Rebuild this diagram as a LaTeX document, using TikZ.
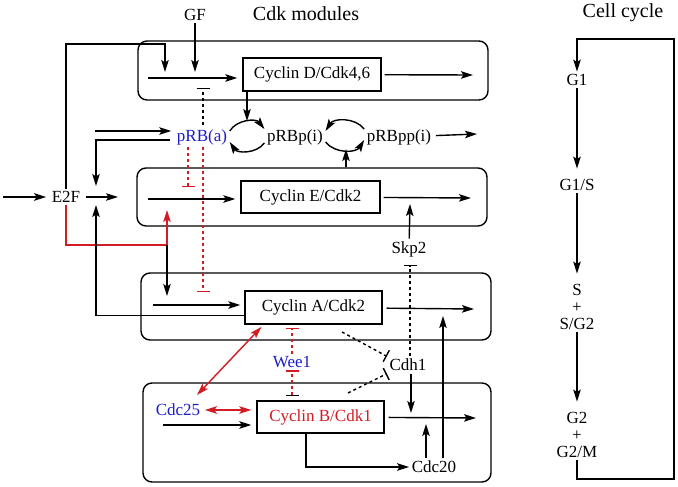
\documentclass[tikz,border=0pt]{standalone}
\usepackage{fontspec}
\setmainfont{Liberation Serif}
\usepackage{tikz}
\usetikzlibrary{arrows.meta,positioning,calc}
\definecolor{cycred}{RGB}{210,28,36}
\definecolor{cycblue}{RGB}{28,28,200}

\begin{document}
\begin{tikzpicture}[
    x=1pt, y=-1pt,
    font=\fontsize{17}{17}\selectfont,
    line width=1.4pt,
    >={Stealth[length=12pt,width=7.5pt,inset=2.5pt]},
    module/.style={rectangle, draw, rounded corners=9pt},
    cyclin/.style={rectangle, draw, inner sep=0pt},
    lbl/.style={inner sep=2pt},
    title/.style={inner sep=2pt, font=\fontsize{20}{20}\selectfont},
    inh/.style={-{Bar[width=13pt]}, dash pattern=on 3pt off 3pt},
    redinh/.style={inh, cycred}
]
    \useasboundingbox (0,0) rectangle (678,487);

    % Titles
    \node[title] (tCdk) at (306,14) {Cdk modules};
    \node[title] (tCell) at (623,13) {Cell cycle};

    % Cdk modules
    \node[module, minimum width=350pt, minimum height=59pt] (modD) at (313,70.5) {};
    \node[module, minimum width=350pt, minimum height=58pt] (modE) at (312,197) {};
    \node[module, minimum width=350pt, minimum height=67pt] (modA) at (316,306.5) {};
    \node[module, minimum width=348pt, minimum height=99pt] (modB) at (317,432.5) {};

    \node[cyclin, minimum width=138pt, minimum height=33pt] (cycD) at (312,74.5) {Cyclin D/Cdk4,6};
    \node[cyclin, minimum width=139pt, minimum height=32pt] (cycE) at (310.5,197) {Cyclin E/Cdk2};
    \node[cyclin, minimum width=137pt, minimum height=33pt] (cycA) at (313.5,307.5) {Cyclin A/Cdk2};
    \node[cyclin, minimum width=127pt, minimum height=32pt, text=cycred] (cycB) at (320.5,417) {Cyclin B/Cdk1};

    % Species
    \node[lbl] (gf) at (195,15) {GF};
    \node[lbl, text=cycblue] (pRBa) at (202,137) {pRB(a)};
    \node[lbl] (pRBp) at (295,137) {pRBp(i)};
    \node[lbl] (pRBpp) at (399,137) {pRBpp(i)};
    \node[lbl] (e2f) at (66,197) {E2F};
    \node[lbl] (skp2) at (409,249) {Skp2};
    \node[lbl] (cdh1) at (408,365) {Cdh1};
    \node[lbl, text=cycblue] (wee1) at (292,362) {Wee1};
    \node[lbl, text=cycblue] (cdc25) at (178,410) {Cdc25};
    \node[lbl] (cdc20) at (434,467) {Cdc20};

    % Cell cycle phases
    \node[lbl] (g1) at (577,80) {G1};
    \node[lbl] (g1s) at (577,185) {G1/S};
    \node[lbl, align=center] (sph) at (577,307) {S\\+\\S/G2};
    \node[lbl, align=center] (g2) at (577,435) {G2\\+\\G2/M};

    % free ends
    \coordinate (dIn) at (148,78);
    \coordinate (dOut) at (473,75);
    \coordinate (dGF) at (195,72);
    \coordinate (dE2F) at (165,72);
    \coordinate (dTop) at (165,44);
    \coordinate (dBar) at (203,88);
    \coordinate (rbTop) at (247,121);
    \coordinate (rbBot) at (346,149);
    \coordinate (rbOut) at (477,134);
    \coordinate (rbIn) at (95,131);
    \coordinate (rbL) at (170,140);
    \coordinate (jTop) at (96,186);
    \coordinate (jBot) at (96,205);
    \coordinate (eIn) at (3,197);
    \coordinate (eOut) at (118,197);
    \coordinate (redJ) at (167,245);
    \coordinate (eUp) at (167,210);
    \coordinate (aDown) at (167,296);
    \coordinate (eBar) at (188,187);
    \coordinate (aBar) at (203,292);
    \coordinate (eLeft) at (148,199);
    \coordinate (eRight) at (471,198);
    \coordinate (skpUp) at (410,204);
    \coordinate (skpBar) at (410,265);
    \coordinate (aLeft) at (153,305);
    \coordinate (aRight) at (474,309);
    \coordinate (aUp) at (443,316);
    \coordinate (bUp) at (426,424);
    \coordinate (bDown) at (411,413);
    \coordinate (bRight) at (476,418);
    \coordinate (bLeft) at (163,425);
    \coordinate (cdhA) at (342,332);
    \coordinate (cdhB) at (348,393);
    \coordinate (w1Bar) at (292,328);
    \coordinate (w2Bar) at (292,396);
    \coordinate (c25Up) at (197,395);
    \coordinate (loopBot) at (674,479);
    \coordinate (loopTop) at (674,39);

    % Cyclin D module
    \draw[->, shorten >=5pt] (dIn) -- (dIn -| cycD.west);
    \draw[->, shorten <=3pt] (cycD) -- (dOut);
    \draw[->] (gf) -- (dGF);
    \draw[->] (e2f) |- (dTop) -- (dE2F);
    \draw[inh, shorten <=2pt] (pRBa.north -| dBar) -- (dBar);

    % pRB
    \draw[->] (rbTop |- cycD.south) -- (rbTop);
    \draw[->] ([yshift=6pt]pRBa.east) to[bend left=55] ([yshift=8pt]pRBp.west);
    \draw[->] ([yshift=-6pt]pRBp.west) to[bend left=55] ([yshift=-5pt]pRBa.east);
    \draw[->] ([yshift=8pt]pRBpp.west) to[bend right=55] ([yshift=6pt]pRBp.east);
    \draw[->] ([yshift=-5pt]pRBp.east) to[bend right=55] ([yshift=-3pt]pRBpp.west);
    \draw[->] (rbBot |- modE.north) -- (rbBot);
    \draw[->, shorten <=2pt] (pRBpp) -- (rbOut);
    \draw[->, shorten >=3pt] (rbIn) -- (rbIn -| pRBa.west);
    \draw[->] (rbL) -| (jTop);

    % E2F
    \draw[->, shorten >=3pt] (eIn) -- (e2f);
    \draw[->, shorten <=3pt] (e2f) -- (eOut);
    \draw[cycred, ->] (e2f) |- (redJ) -- (eUp);
    \draw[->] (redJ) -- (aDown);
    \draw[->] ([yshift=-8pt]cycA.west) -| (jBot);
    \draw[redinh] (eBar |- pRBa.south) -- (eBar);
    \draw[redinh] (aBar |- pRBa.south) -- (aBar);

    % Cyclin E module
    \draw[->, shorten >=5pt] (eLeft) -- (eLeft -| cycE.west);
    \draw[->, shorten <=3pt] (cycE) -- (eRight);
    \draw[->] (skp2) -- (skpUp);
    \draw[inh] (skpBar |- cdh1.north) -- (skpBar);

    % Cyclin A module
    \draw[->, shorten >=4pt] (aLeft) -- (aLeft -| cycA.west);
    \draw[->, shorten <=4pt] (cycA) -- (aRight);
    \draw[->] (aUp |- cdc20.north) -- (aUp);
    \draw[inh] (cdhA) -- (cdh1.north west);
    \draw[inh] (cdhB) -- (cdh1.south west);
    \draw[redinh] (wee1) -- (w1Bar);
    \draw[redinh, {Bar[width=13pt,color=black]}-{Bar[width=13pt]}] (w2Bar) -- (wee1.south);

    % Cyclin B module
    \draw[->] (bDown |- cdh1.south) -- (bDown);
    \draw[->] (bUp |- cdc20.north) -- (bUp);
    \draw[->, shorten <=4pt] (cycB) -- (bRight);
    \draw[->, shorten >=5pt] (bLeft) -- (bLeft -| cycB.west);
    \draw[->] ([xshift=-14.5pt]cycB.south) |- (cdc20);
    \draw[cycred, <->, shorten <=2pt, shorten >=5pt] (cdc25) -- (cdc25 -| cycB.west);
    \draw[cycred, <->, shorten >=3pt] (c25Up) -- ([xshift=-50pt]cycA.south);

    % Cell cycle
    \draw[->, shorten >=8pt] (g1) -- (g1s);
    \draw[->, shorten >=8pt] (g1s) -- (sph);
    \draw[->, shorten >=8pt] (sph) -- (g2);
    \draw[->] (g2) |- (loopBot) -- (loopTop) -| (g1);
\end{tikzpicture}
\end{document}
